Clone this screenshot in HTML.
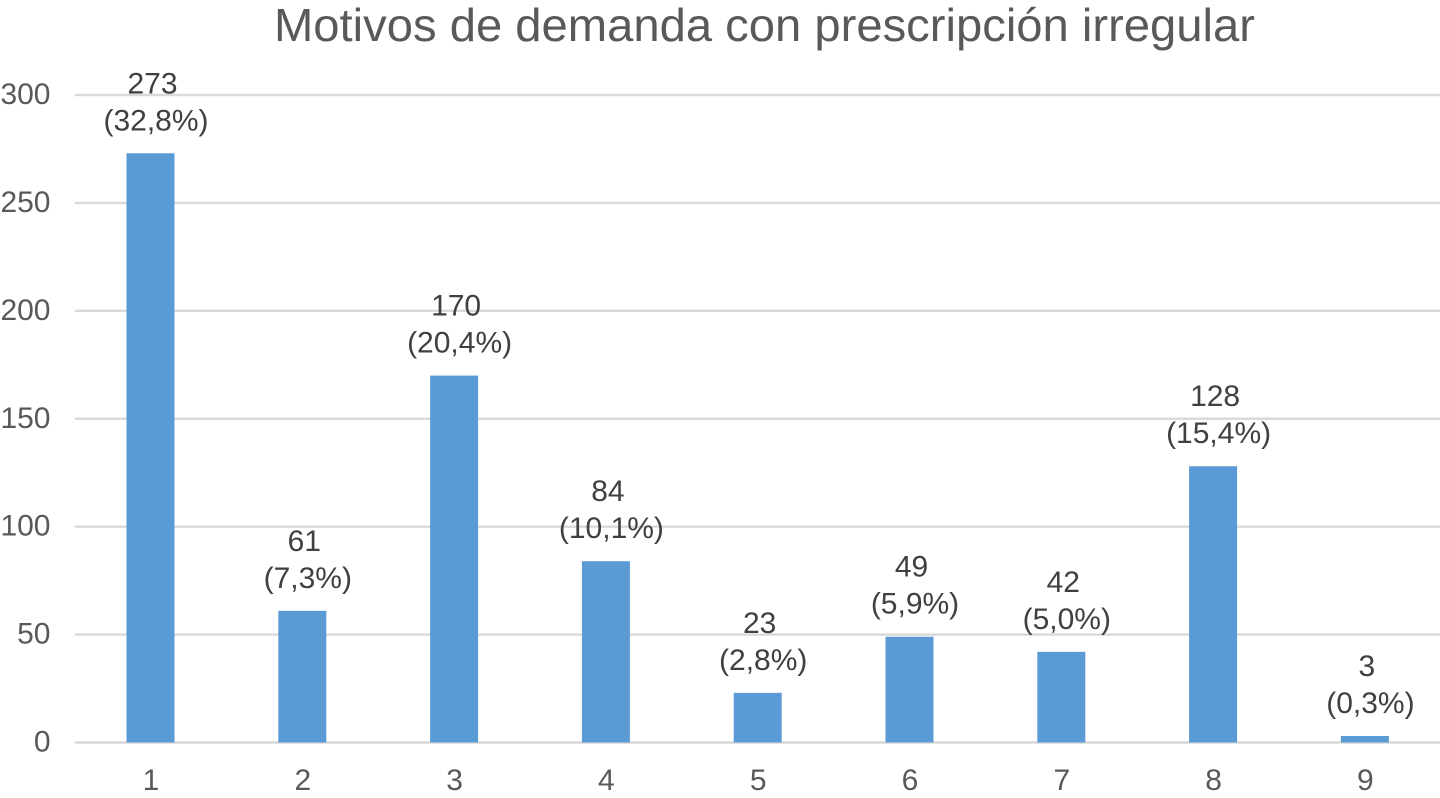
<!DOCTYPE html>
<html lang="es">
<head>
<meta charset="utf-8">
<title>Motivos de demanda con prescripción irregular</title>
<style>
html,body{margin:0;padding:0;background:#fff;width:1440px;height:798px;overflow:hidden}
svg{display:block}
text{font-family:"Liberation Sans",sans-serif}
</style>
</head>
<body>
<svg id="chart" width="1440" height="798" viewBox="0 0 1440 798" xmlns="http://www.w3.org/2000/svg">
<text x="764.5" y="41" text-anchor="middle" font-size="46.5" fill="#595959" textLength="981" lengthAdjust="spacingAndGlyphs">Motivos de demanda con prescripción irregular</text>
</svg>
<script>
const categories = ['1','2','3','4','5','6','7','8','9'];
const counts = [273,61,170,84,23,49,42,128,3];
const percents = ['(32,8%)','(7,3%)','(20,4%)','(10,1%)','(2,8%)','(5,9%)','(5,0%)','(15,4%)','(0,3%)'];
const yTicks = [0,50,100,150,200,250,300];

const svg = document.getElementById('chart');
const NS = 'http://www.w3.org/2000/svg';
const plotLeft = 75, plotRight = 1440, plotFirstCenter = 150.5, plotStep = 151.8;
const yZero = 742.5, yMax = 95, maxValue = 300, barWidth = 48;
const fontSize = 30;

function xScale(i){ return plotFirstCenter + i * plotStep; }
function yScale(v){ return yZero - (v / maxValue) * (yZero - yMax); }
function make(tag, attrs){
  const el = document.createElementNS(NS, tag);
  Object.keys(attrs).forEach(function(k){ el.setAttribute(k, attrs[k]); });
  svg.appendChild(el);
  return el;
}

yTicks.forEach(function(t){
  const y = yScale(t);
  const line = make('line', {x1: plotLeft, x2: plotRight, y1: y, y2: y, stroke: '#d9d9d9', 'stroke-width': 2.4});
  
  
  const label = make('text', {x: 50.5, y: y + 9, 'text-anchor': 'end', 'font-size': fontSize, fill: '#595959'});
  
  
  label.textContent = t;
});

categories.forEach(function(c, i){
  const cx = xScale(i), top = yScale(counts[i]);
  const bar = make('rect', {x: cx - barWidth / 2, y: top, width: barWidth, height: yZero - top, fill: '#5b9bd5'});
  
  

  const tick = make('text', {x: cx + 0.5, y: 790, 'text-anchor': 'middle', 'font-size': fontSize, fill: '#595959'});
  
  
  tick.textContent = c;

  const value = make('text', {x: cx + 2, y: top - 60, 'text-anchor': 'middle', 'font-size': fontSize, fill: '#404040'});
  
  
  value.textContent = counts[i];

  const pct = make('text', {x: cx + 5.5, y: top - 23, 'text-anchor': 'middle', 'font-size': fontSize, fill: '#404040'});
  
  
  pct.textContent = percents[i];
});
</script>
</body>
</html>
